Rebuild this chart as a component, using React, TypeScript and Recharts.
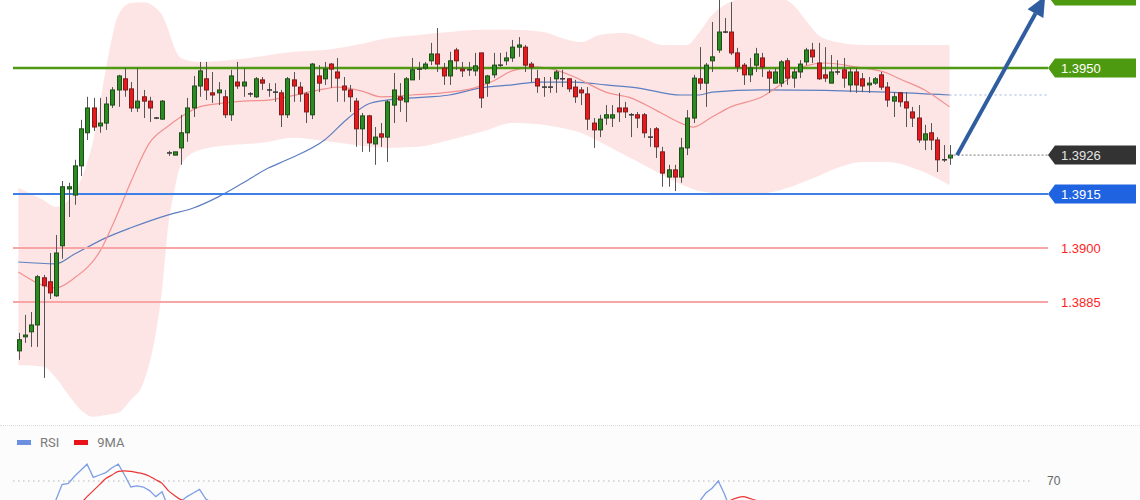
import {
  Area,
  Bar,
  ComposedChart,
  Line,
  LineChart,
  ReferenceLine,
  XAxis,
  YAxis,
} from 'recharts';

// hourly candles, oldest first (bar number = position + 1)
const candleOpen = [
  1.38714, 1.38753, 1.38767, 1.38786, 1.38917, 1.38906, 1.38867, 1.39006, 1.39164, 1.39147,
  1.39228, 1.3932, 1.39389, 1.39339, 1.39347, 1.39397, 1.39439, 1.3947, 1.39442, 1.39389,
  1.3942, 1.39408, 1.39361, 1.39358, 1.39264, 1.39258, 1.39278, 1.3932, 1.39389, 1.3945,
  1.3947, 1.39431, 1.39431, 1.3942, 1.3937, 1.39461, 1.3945, 1.39428, 1.3942, 1.39467,
  1.39439, 1.39433, 1.39431, 1.3937, 1.39467, 1.39447, 1.39428, 1.3937, 1.39478, 1.3947,
  1.39511, 1.39489, 1.3945, 1.39439, 1.39408, 1.39331, 1.39367, 1.39289, 1.39317, 1.39308,
  1.39397, 1.3942, 1.39406, 1.39467, 1.39497, 1.395, 1.3952, 1.39539, 1.395, 1.39478,
  1.3955, 1.39497, 1.39495, 1.39492, 1.39542, 1.39458, 1.39481, 1.39508, 1.3952, 1.39528,
  1.39558, 1.39558, 1.39511, 1.3947, 1.39447, 1.39447, 1.3947, 1.3947, 1.3947, 1.39447,
  1.39439, 1.39428, 1.39347, 1.39328, 1.39361, 1.39361, 1.39389, 1.39389, 1.3937, 1.3937,
  1.3937, 1.39308, 1.39331, 1.39267, 1.39197, 1.39217, 1.39197, 1.39278, 1.39361, 1.3947,
  1.39458, 1.3952, 1.3955, 1.396, 1.396, 1.39542, 1.39508, 1.39481, 1.39508, 1.39528,
  1.39489, 1.39458, 1.39458, 1.3952, 1.39472, 1.39489, 1.39517, 1.3955, 1.39514, 1.39481,
  1.39458, 1.39489, 1.39495, 1.39453, 1.39489, 1.3947, 1.39453, 1.39458, 1.39481, 1.39447,
  1.39408, 1.39431, 1.39406, 1.39378, 1.39361, 1.393, 1.3932, 1.393, 1.39245, 1.3925,
];
const candleHigh = [
  1.38764, 1.38814, 1.38822, 1.38925, 1.38925, 1.38986, 1.39036, 1.39186, 1.39181, 1.39245,
  1.39356, 1.3942, 1.39417, 1.39417, 1.3942, 1.39447, 1.39481, 1.395, 1.39461, 1.395,
  1.39439, 1.3942, 1.39364, 1.39411, 1.3927, 1.39267, 1.3937, 1.39417, 1.39478, 1.39517,
  1.39517, 1.39489, 1.39461, 1.39439, 1.39495, 1.39517, 1.395, 1.39433, 1.39475, 1.39475,
  1.39458, 1.39458, 1.39439, 1.39475, 1.39489, 1.39461, 1.39433, 1.39514, 1.39508, 1.39517,
  1.39514, 1.39528, 1.39475, 1.39453, 1.39417, 1.39375, 1.3937, 1.39336, 1.39347, 1.39411,
  1.39486, 1.39458, 1.39475, 1.39528, 1.39517, 1.39517, 1.3957, 1.39611, 1.39514, 1.39545,
  1.39556, 1.39517, 1.39517, 1.39542, 1.39542, 1.39481, 1.39542, 1.39542, 1.39545, 1.39578,
  1.39586, 1.39564, 1.39517, 1.39495, 1.39475, 1.39475, 1.39495, 1.39495, 1.39472, 1.39467,
  1.39447, 1.39447, 1.39361, 1.3937, 1.39397, 1.39397, 1.39431, 1.39406, 1.39375, 1.39378,
  1.39375, 1.39333, 1.39336, 1.39281, 1.39231, 1.39231, 1.39306, 1.39383, 1.39481, 1.39558,
  1.39514, 1.39628, 1.39689, 1.39639, 1.39683, 1.39556, 1.39514, 1.39528, 1.39556, 1.39542,
  1.39495, 1.395, 1.39522, 1.39528, 1.395, 1.39522, 1.39556, 1.3957, 1.3957, 1.39558,
  1.39536, 1.39522, 1.39528, 1.395, 1.395, 1.39486, 1.39475, 1.39475, 1.39489, 1.39461,
  1.39433, 1.39433, 1.39433, 1.39392, 1.39397, 1.39342, 1.39347, 1.39308, 1.39286, 1.39286,
];
const candleLow = [
  1.38689, 1.38736, 1.38725, 1.38725, 1.38639, 1.38858, 1.38864, 1.3897, 1.39086, 1.3912,
  1.392, 1.393, 1.39325, 1.3932, 1.39328, 1.39389, 1.39392, 1.3942, 1.39378, 1.39378,
  1.39361, 1.3935, 1.39358, 1.39356, 1.39256, 1.39258, 1.39231, 1.39295, 1.39364, 1.3942,
  1.39411, 1.39403, 1.39397, 1.39361, 1.39353, 1.39442, 1.3942, 1.3942, 1.39417, 1.39439,
  1.3942, 1.39406, 1.39336, 1.39361, 1.39406, 1.39406, 1.39347, 1.39358, 1.39433, 1.39453,
  1.39445, 1.39406, 1.39406, 1.39378, 1.39281, 1.39267, 1.39267, 1.39231, 1.39281, 1.39239,
  1.39347, 1.39378, 1.3935, 1.39467, 1.39467, 1.39495, 1.39508, 1.39489, 1.39453, 1.39453,
  1.39495, 1.39475, 1.39478, 1.39478, 1.39389, 1.3942, 1.39472, 1.39503, 1.39508, 1.39517,
  1.39531, 1.39489, 1.39461, 1.39431, 1.3942, 1.39431, 1.39431, 1.39447, 1.39433, 1.39403,
  1.39397, 1.39328, 1.39278, 1.39308, 1.39342, 1.39336, 1.3935, 1.39361, 1.39308, 1.39333,
  1.39306, 1.39281, 1.3925, 1.3917, 1.3917, 1.39158, 1.39181, 1.39258, 1.39347, 1.39439,
  1.39392, 1.39489, 1.39542, 1.39597, 1.39536, 1.39489, 1.39453, 1.39461, 1.39489, 1.39475,
  1.39431, 1.39458, 1.39447, 1.39453, 1.39445, 1.39472, 1.39508, 1.39514, 1.39467, 1.39461,
  1.39458, 1.39481, 1.39445, 1.39433, 1.39431, 1.39433, 1.39431, 1.39453, 1.39439, 1.39392,
  1.39364, 1.39392, 1.39336, 1.39336, 1.39292, 1.39272, 1.39272, 1.39211, 1.39239, 1.39231,
];
const candleClose = [
  1.38745, 1.38758, 1.38786, 1.3892, 1.38895, 1.38875, 1.38986, 1.3917, 1.3917, 1.39228,
  1.39331, 1.39389, 1.39336, 1.39347, 1.394, 1.39439, 1.39478, 1.39439, 1.39389, 1.39408,
  1.39408, 1.39389, 1.39361, 1.39408, 1.39264, 1.39267, 1.3932, 1.39389, 1.3945, 1.39492,
  1.39439, 1.39425, 1.39439, 1.3937, 1.39478, 1.3945, 1.39461, 1.39428, 1.3947, 1.39458,
  1.39439, 1.39431, 1.3937, 1.3947, 1.3945, 1.39428, 1.39378, 1.39511, 1.39458, 1.39497,
  1.39497, 1.39472, 1.39439, 1.3942, 1.39331, 1.39367, 1.39292, 1.39308, 1.39308, 1.39406,
  1.39439, 1.39411, 1.3947, 1.39495, 1.39497, 1.39511, 1.39539, 1.39511, 1.39478, 1.3952,
  1.3952, 1.39492, 1.39495, 1.39506, 1.39417, 1.39478, 1.39508, 1.39508, 1.39528, 1.39558,
  1.39564, 1.39508, 1.39503, 1.3945, 1.39447, 1.39447, 1.39489, 1.3947, 1.39442, 1.3942,
  1.39431, 1.39358, 1.39328, 1.39358, 1.3937, 1.3937, 1.39378, 1.39378, 1.3937, 1.39361,
  1.3932, 1.39308, 1.39281, 1.39208, 1.39217, 1.39197, 1.39278, 1.39361, 1.39472, 1.39458,
  1.39508, 1.39531, 1.396, 1.396, 1.39542, 1.39503, 1.39481, 1.395, 1.39539, 1.39503,
  1.39472, 1.39489, 1.39517, 1.39472, 1.39489, 1.39511, 1.3955, 1.39531, 1.3947, 1.39472,
  1.39489, 1.39489, 1.39472, 1.39489, 1.39453, 1.3945, 1.39458, 1.3947, 1.39447, 1.39411,
  1.3942, 1.39406, 1.39389, 1.39361, 1.393, 1.39317, 1.393, 1.39245, 1.39245, 1.39258,
];

// bollinger envelope, read at selected bars
const bandIdx = [
  1, 5, 7, 9, 11, 13, 15, 17, 19, 21, 23, 24, 25, 26, 27, 30, 35, 40, 45, 50, 55, 60, 65, 70,
  75, 80, 85, 88, 91, 94, 98, 101, 104, 108, 110, 112, 114, 117, 120, 123, 125, 127, 129, 132,
  136, 140, 145, 150,
];
const bandUpper = [
  1.39167, 1.39133, 1.39114, 1.39133, 1.39189, 1.393, 1.39495, 1.39647, 1.39681, 1.39683,
  1.39667, 1.39647, 1.39606, 1.39556, 1.39528, 1.39517, 1.39522, 1.39533, 1.39545, 1.3955,
  1.39564, 1.39583, 1.39592, 1.396, 1.39606, 1.39606, 1.396, 1.39583, 1.39572, 1.39592,
  1.39597, 1.39583, 1.39564, 1.39564, 1.396, 1.39647, 1.39675, 1.39695, 1.397, 1.39695,
  1.39675, 1.39633, 1.39592, 1.39572, 1.39564, 1.39564, 1.39564, 1.39564,
];
const bandLower = [
  1.38675, 1.3867, 1.38639, 1.38592, 1.3855, 1.38531, 1.38536, 1.38542, 1.38578, 1.38625,
  1.38764, 1.38883, 1.39064, 1.39161, 1.39231, 1.39272, 1.39286, 1.39292, 1.39306, 1.39297,
  1.39286, 1.39278, 1.39281, 1.393, 1.39322, 1.39347, 1.39342, 1.39333, 1.3932, 1.39295,
  1.39258, 1.39231, 1.39203, 1.3917, 1.39158, 1.39153, 1.3915, 1.39147, 1.3915, 1.39161,
  1.39172, 1.39186, 1.392, 1.39222, 1.39239, 1.39239, 1.39217, 1.39175,
];

// 20-bar middle band (red) and slow average (blue)
const midIdx = [
  1, 7, 10, 14, 17, 19, 22, 25, 27, 30, 34, 37, 41, 44, 50, 52, 56, 59, 64, 70, 74, 77, 80,
  84, 90, 92, 95, 99, 103, 107, 109, 112, 115, 120, 124, 127, 130, 135, 140, 142, 146, 150,
];
const midVal = [
  1.38933, 1.38889, 1.38917, 1.38989, 1.391, 1.39183, 1.39292, 1.39339, 1.39364, 1.39392,
  1.39403, 1.39408, 1.39411, 1.3942, 1.39442, 1.39447, 1.39436, 1.3942, 1.39425, 1.39433,
  1.39445, 1.39464, 1.39492, 1.39503, 1.39475, 1.39458, 1.39433, 1.39417, 1.39383, 1.39347,
  1.39336, 1.39364, 1.39392, 1.3942, 1.39467, 1.39506, 1.39514, 1.39503, 1.39486, 1.3947,
  1.39439, 1.39392,
];
const slowIdx = [
  1, 7, 10, 15, 19, 25, 29, 33, 37, 41, 44, 50, 54, 57, 60, 64, 70, 75, 80, 84, 90, 95, 100,
  107, 110, 112, 120, 140, 150,
];
const slowVal = [
  1.38961, 1.38956, 1.38983, 1.39028, 1.39056, 1.39092, 1.39111, 1.39142, 1.39181, 1.39222,
  1.39245, 1.393, 1.39364, 1.394, 1.39411, 1.39417, 1.39425, 1.39445, 1.39453, 1.39461,
  1.39461, 1.39453, 1.39445, 1.39425, 1.39425, 1.39433, 1.39439, 1.39433, 1.39425,
];

// RSI(14) and its 9-bar average, one value per candle
const rsiVal = [
  40, 42, 45, 52, 50, 48, 54, 67, 68, 74, 79, 84, 73, 75, 77, 81, 84, 75, 65, 66,
  65, 62, 57, 61, 48, 49, 53, 57, 60, 63, 55, 52, 52, 47, 53, 51, 52, 49, 52, 51,
  50, 49, 45, 52, 50, 48, 44, 53, 50, 52, 51, 50, 48, 46, 40, 42, 38, 37, 38, 46,
  49, 48, 52, 53, 53, 53, 53, 52, 50, 53, 53, 52, 52, 53, 45, 48, 51, 51, 52, 53,
  53, 48, 47, 44, 43, 43, 46, 45, 43, 41, 41, 37, 35, 37, 38, 38, 40, 40, 38, 37,
  34, 33, 31, 28, 30, 29, 36, 43, 50, 53, 60, 64, 70, 59, 45, 44, 45, 47, 50, 48,
  46, 48, 50, 47, 48, 50, 52, 51, 47, 47, 48, 48, 47, 48, 46, 45, 46, 46, 44, 41,
  42, 40, 39, 37, 34, 35, 34, 30, 30, 31,
];
const rsiMa = [
  44, 44, 45, 46, 46, 47, 48, 49, 50, 51, 52, 57, 62, 67, 72, 75, 78, 78.5, 78, 77,
  76, 74, 71, 68, 62, 58, 54.5, 53, 52, 52, 53, 53, 53, 52, 52, 52, 52, 51, 51, 51,
  51, 50, 50, 50, 50, 50, 49, 49, 49, 49, 49, 49, 49, 48, 47, 46, 45, 44, 43, 42,
  42, 43, 44, 45, 46, 47, 48, 49, 50, 51, 51, 51, 51, 51, 51, 50, 50, 50, 50, 50,
  50, 50, 49, 48, 47, 46, 46, 45, 44, 43, 42, 41, 40, 39, 39, 38, 38, 38, 38, 38,
  37, 36, 35, 34, 34, 33, 33, 34, 36, 38, 41, 44, 47, 50, 54, 56, 57, 55.5, 54, 52,
  50, 49, 48, 48, 48, 48, 48, 48, 48, 48, 48, 48, 48, 47, 47, 47, 47, 46, 46, 45,
  44, 43, 42, 41, 40, 39, 38, 37, 36, 35,
];

const resistanceLevels = [1.395];
const supportLevels = [1.3915];
const pivotLevels = [1.39, 1.3885];
const targetPrice = 1.397;
const rsiLevel = 70;

const W = 1140;
const PRICE_H = 425;
const X_MIN = 0.152;
const X_MAX = 165.752;
const X_MAX_RSI = 163.192;
const Y_DOMAIN: [number, number] = [1.38508, 1.39689];
const MARGIN = { top: 0, right: 92, bottom: 0, left: 13 };
const ARROW_FROM = 151.2;
const ARROW_TO = 165.3;
const FONT = '"Liberation Sans", Arial, sans-serif';

const candleRows = candleOpen.map((o, k) => ({
  i: k + 1,
  o,
  h: candleHigh[k],
  l: candleLow[k],
  c: candleClose[k],
  range: [candleLow[k], candleHigh[k]],
}));
const bandRows = bandIdx.map((i, k) => ({ i, band: [bandLower[k], bandUpper[k]] }));
const maRows = Array.from(new Set([...midIdx, ...slowIdx]))
  .sort((a, b) => a - b)
  .map((i) => {
    const m = midIdx.indexOf(i);
    const s = slowIdx.indexOf(i);
    return { i, mid: m >= 0 ? midVal[m] : null, slow: s >= 0 ? slowVal[s] : null };
  });
const rsiRows = rsiVal.map((v, k) => ({ i: k + 1, rsi: v, ma: rsiMa[k] }));

const lastIdx = candleRows.length;
const lastClose = candleClose[lastIdx - 1];
const slowLast = slowVal[slowVal.length - 1];

function Candle(props: any) {
  const { x, y, width, height, payload } = props;
  if (!payload || !Number.isFinite(y)) return null;
  const { o, h, l, c } = payload;
  const span = h - l || 1e-9;
  const toY = (v: number) => y + ((h - v) / span) * height;
  const cx = Math.round(x + width / 2) + 0.5;
  const top = toY(Math.max(o, c));
  const bot = toY(Math.min(o, c));
  const flat = Math.abs(o - c) < 0.00003;
  const up = c > o;
  return (
    <g>
      <line x1={cx} x2={cx} y1={y} y2={y + height} stroke="#555" strokeWidth={1} />
      {flat ? (
        <line x1={cx - 2.5} x2={cx + 2.5} y1={top} y2={top} stroke="#333" strokeWidth={1.5} />
      ) : (
        <rect
          x={cx - 2}
          y={top}
          width={4}
          height={Math.max(bot - top, 1)}
          fill={up ? '#2c8a22' : '#e8191c'}
          stroke={up ? '#1d4d16' : '#7d1c1c'}
          strokeWidth={1}
        />
      )}
    </g>
  );
}

// price tag at the right end of a level line (box optional)
function Tag(props: any) {
  const vb = props.viewBox || {};
  const { text, bg, fg, size = 13, dx = 13 } = props;
  if (vb.x == null) return null;
  const x = vb.x + (vb.width || 0);
  const y = vb.y + (vb.height || 0) / 2;
  const h = 9.5;
  return (
    <g>
      {bg && (
        <polygon
          points={`${x},${y} ${x + 7},${y - h} ${x + 88},${y - h} ${x + 88},${y + h} ${x + 7},${y + h}`}
          fill={bg}
        />
      )}
      {text && (
        <text x={x + dx} y={y} dy="0.36em" fill={fg} fontSize={size} fontFamily={FONT}>
          {text}
        </text>
      )}
    </g>
  );
}

function ArrowShape(props: any) {
  const { x1, y1, x2, y2 } = props;
  const ang = Math.atan2(y2 - y1, x2 - x1);
  const len = 20;
  const half = 9;
  const bx = x2 - len * Math.cos(ang);
  const by = y2 - len * Math.sin(ang);
  const nx = -Math.sin(ang);
  const ny = Math.cos(ang);
  return (
    <g>
      <line x1={x1} y1={y1} x2={bx} y2={by} stroke="#2f5d9f" strokeWidth={4} />
      <polygon
        points={`${x2},${y2} ${bx + nx * half},${by + ny * half} ${bx - nx * half},${by - ny * half}`}
        fill="#2f5d9f"
      />
    </g>
  );
}

const layer = { position: 'absolute' as const, left: 0, top: 0 };

export default function App() {
  return (
    <div
      style={{
        position: 'absolute',
        left: 0,
        top: 0,
        width: W,
        height: 500,
        overflow: 'hidden',
        background: '#fff',
        fontFamily: FONT,
      }}
    >
      {/* bollinger envelope */}
      <div style={layer}>
        <ComposedChart width={W} height={PRICE_H} data={bandRows} margin={MARGIN}>
          <XAxis dataKey="i" type="number" domain={[X_MIN, X_MAX]} hide allowDataOverflow />
          <YAxis type="number" domain={Y_DOMAIN} hide allowDataOverflow />
          <Area
            dataKey="band"
            type="monotone"
            stroke="none"
            fill="#fbcfcf"
            fillOpacity={0.55}
            isAnimationActive={false}
          />
        </ComposedChart>
      </div>

      {/* moving averages and levels */}
      <div style={layer}>
        <ComposedChart width={W} height={PRICE_H} data={maRows} margin={MARGIN}>
          <XAxis dataKey="i" type="number" domain={[X_MIN, X_MAX]} hide allowDataOverflow />
          <YAxis type="number" domain={Y_DOMAIN} hide allowDataOverflow />
          <Line
            dataKey="slow"
            type="monotone"
            stroke="#5d7fc0"
            strokeWidth={1.2}
            dot={false}
            connectNulls
            isAnimationActive={false}
          />
          <Line
            dataKey="mid"
            type="monotone"
            stroke="#f29090"
            strokeWidth={1.2}
            dot={false}
            connectNulls
            isAnimationActive={false}
          />
          {pivotLevels.map((p) => (
            <ReferenceLine
              key={p}
              y={p}
              stroke="#f7a5a5"
              strokeWidth={2}
              label={<Tag text={p.toFixed(4)} fg="#ff1f1f" />}
            />
          ))}
          {supportLevels.map((p) => (
            <ReferenceLine
              key={p}
              y={p}
              stroke="#3f7fe6"
              strokeWidth={2}
              label={<Tag text={p.toFixed(4)} bg="#1f63e0" fg="#ffffff" />}
            />
          ))}
          {resistanceLevels.map((p) => (
            <ReferenceLine
              key={p}
              y={p}
              stroke="#4f9a12"
              strokeWidth={2.5}
              label={<Tag text={p.toFixed(4)} bg="#4d9a10" fg="#ffffff" />}
            />
          ))}
          {/* target tag sits above the frame, only its lower edge shows */}
          <ReferenceLine
            y={targetPrice}
            stroke="#4f9a12"
            strokeWidth={2.5}
            ifOverflow="visible"
            label={<Tag bg="#4d9a10" />}
          />
        </ComposedChart>
      </div>

      {/* candles, last price, projection */}
      <div style={layer}>
        <ComposedChart width={W} height={PRICE_H} data={candleRows} margin={MARGIN}>
          <XAxis dataKey="i" type="number" domain={[X_MIN, X_MAX]} hide allowDataOverflow />
          <YAxis type="number" domain={Y_DOMAIN} hide allowDataOverflow />
          <ReferenceLine
            segment={[
              { x: lastIdx, y: slowLast },
              { x: X_MAX, y: slowLast },
            ]}
            stroke="#9cb2e0"
            strokeDasharray="2 3"
            strokeWidth={1.2}
          />
          <ReferenceLine
            segment={[
              { x: lastIdx, y: lastClose },
              { x: X_MAX, y: lastClose },
            ]}
            stroke="#777"
            strokeDasharray="2 2"
            strokeWidth={1}
            label={<Tag text={lastClose.toFixed(4)} bg="#333333" fg="#e4e4e4" />}
          />
          <Bar
            dataKey="range"
            barSize={5}
            shape={(p: any) => <Candle {...p} />}
            isAnimationActive={false}
          />
          <ReferenceLine
            segment={[
              { x: ARROW_FROM, y: lastClose },
              { x: ARROW_TO, y: targetPrice },
            ]}
            ifOverflow="visible"
            shape={(p: any) => <ArrowShape {...p} />}
          />
        </ComposedChart>
      </div>

      <div
        style={{
          position: 'absolute',
          left: 0,
          top: 425,
          width: W,
          borderTop: '1px dotted #dcdcdc',
        }}
      />

      {/* RSI panel */}
      <div
        style={{
          position: 'absolute',
          left: 0,
          top: 426,
          width: W,
          height: 74,
          overflow: 'hidden',
          background: '#fbfcfb',
        }}
      >
        <div style={{ position: 'absolute', left: 0, top: -1 }}>
          <LineChart
            width={W}
            height={140}
            data={rsiRows}
            margin={{ top: 20, right: 108, bottom: 0, left: 13 }}
          >
            <XAxis dataKey="i" type="number" domain={[X_MIN, X_MAX_RSI]} hide allowDataOverflow />
            <YAxis type="number" domain={[0, 100]} hide allowDataOverflow />
            <ReferenceLine
              y={rsiLevel}
              stroke="#b5b5b5"
              strokeDasharray="1.5 3.5"
              label={<Tag text={String(rsiLevel)} fg="#666" size={12} dx={15} />}
            />
            <Line
              dataKey="rsi"
              type="linear"
              stroke="#7d9ee6"
              strokeWidth={1.3}
              dot={false}
              isAnimationActive={false}
            />
            <Line
              dataKey="ma"
              type="monotone"
              stroke="#ee3434"
              strokeWidth={1.2}
              dot={false}
              isAnimationActive={false}
            />
          </LineChart>
        </div>
        <div
          style={{
            position: 'absolute',
            left: 17,
            top: 9,
            display: 'flex',
            alignItems: 'center',
            fontSize: 13,
            color: '#7a7a7a',
            fontFamily: 'Roboto, sans-serif',
          }}
        >
          <span style={{ width: 14, height: 5, background: '#6d8fe0', marginRight: 9 }} />
          <span style={{ marginRight: 15 }}>RSI</span>
          <span style={{ width: 14, height: 5, background: '#e8141a', marginRight: 9 }} />
          <span>9MA</span>
        </div>
      </div>
    </div>
  );
}
